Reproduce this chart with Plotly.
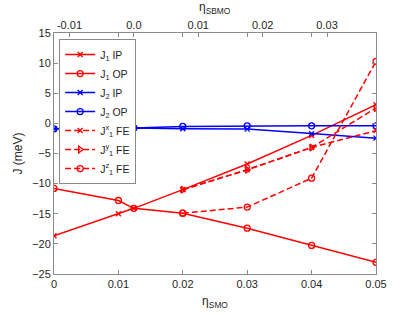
import plotly.graph_objects as go

# ---- data ----
eta_main = [0, 0.01, 0.0124, 0.02, 0.03, 0.04, 0.05]
J1_IP = [-18.65, -15.0, -14.1, -11.0, -6.75, -2.0, 3.1]
J1_OP = [-10.8, -12.8, -14.1, -14.9, -17.4, -20.25, -23.07]
J2_IP = [-0.9, -0.75, -0.75, -0.88, -0.95, -1.7, -2.45]
J2_OP = [-0.9, -0.75, -0.75, -0.5, -0.4, -0.4, -0.4]

eta_fe = [0.02, 0.03, 0.04, 0.05]
J1x_FE = [-11.0, -7.7, -4.0, -1.2]
J1y_FE = [-11.0, -7.7, -4.0, 2.55]
J1z_FE = [-14.9, -13.9, -9.1, 10.3]

x_ticks = [0, 0.01, 0.02, 0.03, 0.04, 0.05]
x_ticktext = ["0", "0.01", "0.02", "0.03", "0.04", "0.05"]
top_ticks = [-0.01, 0.0, 0.01, 0.02, 0.03]
top_ticktext = ["-0.01", "0.0", "0.01", "0.02", "0.03"]
y_ticks = [15, 10, 5, 0, -5, -10, -15, -20, -25]
top_offset = 0.0124  # eta_SBMO = eta_SMO - offset

RED = "#ff0000"
BLUE = "#0000ff"
AX = "#8a8a8a"
TXT = "#262626"
FONT = "Liberation Sans"

fig = go.Figure()

def add(x, y, name, color, symbol, dash="solid", msize=6):
    fig.add_trace(go.Scatter(
        x=x, y=y, name=name, mode="lines+markers",
        line=dict(color=color, width=1.5, dash=dash),
        marker=dict(symbol=symbol, size=msize, color=color,
                    line=dict(color=color, width=1.3)),
    ))

add(eta_main, J1_IP, "J<sub>1</sub> IP", RED, "x-thin-open", msize=5)
add(eta_main, J1_OP, "J<sub>1</sub> OP", RED, "circle-open")
add(eta_main, J2_IP, "J<sub>2</sub> IP", BLUE, "x-thin-open", msize=5)
add(eta_main, J2_OP, "J<sub>2</sub> OP", BLUE, "circle-open")
add(eta_fe, J1x_FE, "J<sup>x</sup><sub>1</sub> FE", RED, "x-thin-open", dash="6px,3px", msize=5)
add(eta_fe, J1y_FE, "J<sup>y</sup><sub>1</sub> FE", RED, "triangle-right-open", dash="6px,3px")
add(eta_fe, J1z_FE, "J<sup>z</sup><sub>1</sub> FE", RED, "circle-open", dash="6px,3px")

# invisible trace to activate the top axis
fig.add_trace(go.Scatter(x=[top_ticks[0]], y=[0], xaxis="x2", mode="markers",
                         marker=dict(opacity=0), showlegend=False, hoverinfo="skip"))

axis_common = dict(showline=True, linecolor=AX, linewidth=1, ticks="inside",
                   ticklen=4, tickcolor=AX, showgrid=False, zeroline=False,
                   automargin=False,
                   tickfont=dict(family=FONT, size=11, color=TXT))

fig.update_layout(
    width=415, height=315,
    margin=dict(l=54, r=39, t=33, b=41),
    paper_bgcolor="white", plot_bgcolor="white",
    font=dict(family=FONT, size=11, color=TXT),
    xaxis=dict(range=[0, 0.05], tickvals=x_ticks, ticktext=x_ticktext,
               mirror="ticks",
               title=dict(text="η<sub>SMO</sub>", standoff=7,
                          font=dict(family=FONT, size=12, color=TXT)),
               **axis_common),
    xaxis2=dict(range=[0 - top_offset, 0.05 - top_offset], overlaying="x", side="top",
                tickvals=top_ticks, ticktext=top_ticktext, ticklabelstandoff=-1,
                **axis_common),
    yaxis=dict(range=[-25, 15], tickvals=y_ticks, mirror="ticks",
               title=dict(text="J (meV)", standoff=6,
                          font=dict(family=FONT, size=12, color=TXT)),
               **axis_common),
    legend=dict(x=0.016, y=0.975, xanchor="left", yanchor="top",
                bgcolor="white", bordercolor=AX, borderwidth=1,
                font=dict(family=FONT, size=10.5, color=TXT),
                itemwidth=30, tracegroupgap=0),
    showlegend=True,
    annotations=[dict(text="η<sub>SBMO</sub>", xref="paper", yref="paper",
                      x=0.5, y=1 + 25 / 241, xanchor="center", yanchor="middle",
                      showarrow=False, font=dict(family=FONT, size=12, color=TXT))],
)

fig.write_html("out.html", config={"displayModeBar": False},
               post_script="document.body.style.margin='0';document.body.style.overflow='hidden';")
